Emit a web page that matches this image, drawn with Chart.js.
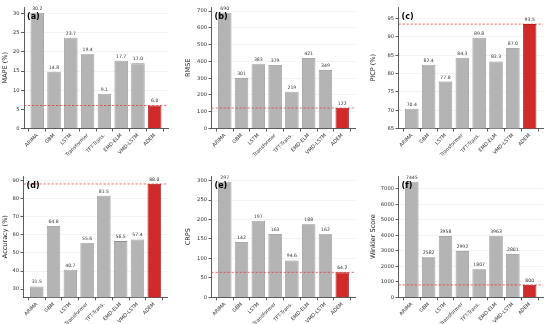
<!DOCTYPE html>
<html>
<head>
<meta charset="utf-8">
<script src="https://cdn.jsdelivr.net/npm/chart.js@4"></script>
<style>
  html, body { margin: 0; padding: 0; background: #fff; }
  #wrap { position: relative; width: 550px; height: 324px; overflow: hidden; }
  .panel { position: absolute; }
</style>
</head>
<body>
<div id="wrap"></div>
<script>
// ─── Data ────────────────────────────────────────────────────────────────────
const models = ['ARIMA', 'GBM', 'LSTM', 'Transformer', 'TFT-Trans.', 'EMD-ELM', 'VMD-LSTM', 'ADEM'];
const mape = [30.2, 14.8, 23.7, 19.4, 9.1, 17.7, 17.0, 6.0];
const rmse = [690, 301, 383, 379, 219, 421, 349, 122];
const picp = [70.4, 82.4, 77.8, 84.3, 89.8, 83.3, 87.0, 93.5];
const accuracy = [31.5, 64.8, 40.7, 55.6, 81.5, 56.5, 57.4, 88.0];
const crps = [297, 142, 197, 163, 94.6, 188, 162, 64.2];
const winkler = [7445, 2582, 3958, 2992, 1807, 3963, 2801, 800];

// y tick labels per panel
const mapeTicks = [0, 5, 10, 15, 20, 25, 30];
const rmseTicks = [0, 100, 200, 300, 400, 500, 600, 700];
const picpTicks = [65, 70, 75, 80, 85, 90, 95];
const accuracyTicks = [30, 40, 50, 60, 70, 80, 90];
const crpsTicks = [0, 50, 100, 150, 200, 250, 300];
const winklerTicks = [0, 1000, 2000, 3000, 4000, 5000, 6000, 7000];

const FONT = 'DejaVu Sans';
const GRAY = '#b4b4b4', GRAY_EDGE = '#8e8e8e';
const RED = '#d12a2a', RED_EDGE = '#a51a1a';
const INK = '#333';

const fmtVal = v => v >= 100 ? String(Math.round(v)) : v.toFixed(1);

// canvas boxes [x, y, w, h] and target plot boxes [left, top, right, bottom]
const panels = [
  { letter: '(a)', title: 'MAPE (%)',      values: mape,     ticks: mapeTicks,     yMin: 0,    canvas: [0, 0, 183, 162],     plot: [24, 7, 168, 128.5] },
  { letter: '(b)', title: 'RMSE',          values: rmse,     ticks: rmseTicks,     yMin: 0,    canvas: [183, 0, 185, 162],   plot: [211.5, 7, 355.5, 128.5] },
  { letter: '(c)', title: 'PICP (%)',      values: picp,     ticks: picpTicks,     yMin: 65,   canvas: [368, 0, 182, 162],   plot: [398.5, 7, 543, 128.5] },
  { letter: '(d)', title: 'Accuracy (%)',  values: accuracy, ticks: accuracyTicks, yMin: 25.5, canvas: [0, 162, 183, 162],   plot: [23.5, 176, 167.5, 297.3] },
  { letter: '(e)', title: 'CRPS',          values: crps,     ticks: crpsTicks,     yMin: 0,    canvas: [183, 162, 185, 162], plot: [211.5, 176, 355.5, 297.3] },
  { letter: '(f)', title: 'Winkler Score', values: winkler,  ticks: winklerTicks,  yMin: 0,    canvas: [368, 162, 182, 162], plot: [398.5, 176, 543, 297.3] },
];

// reference line, value labels and panel letter
const overlay = {
  id: 'overlay',
  afterDatasetsDraw(chart, args, opts) {
    const { ctx, chartArea } = chart;
    const vals = opts.values;
    const yRef = chart.scales.y.getPixelForValue(vals[vals.length - 1]);
    ctx.save();
    ctx.strokeStyle = 'rgba(228, 45, 45, 0.85)';
    ctx.lineWidth = 0.8;
    ctx.setLineDash([2.4, 1.6]);
    ctx.beginPath();
    ctx.moveTo(chartArea.left, yRef);
    ctx.lineTo(chartArea.right, yRef);
    ctx.stroke();
    ctx.setLineDash([]);

    ctx.fillStyle = INK;
    ctx.font = `4.6px "${FONT}"`;
    ctx.textAlign = 'center';
    ctx.textBaseline = 'bottom';
    chart.getDatasetMeta(0).data.forEach((bar, i) => {
      ctx.fillText(fmtVal(vals[i]), bar.x, bar.y - 2);
    });

    ctx.fillStyle = '#000';
    ctx.font = `bold 8px "${FONT}"`;
    ctx.textAlign = 'left';
    ctx.textBaseline = 'middle';
    ctx.fillText(opts.letter, chartArea.left + 3, chartArea.top + 9.5);
    ctx.restore();
  },
};

const wrap = document.getElementById('wrap');

for (const p of panels) {
  const [cx, cy, cw, ch] = p.canvas;
  const [pl, pt, pr, pb] = p.plot;
  const canvas = document.createElement('canvas');
  canvas.className = 'panel';
  canvas.width = cw;
  canvas.height = ch;
  canvas.style.left = cx + 'px';
  canvas.style.top = cy + 'px';
  canvas.style.width = cw + 'px';
  canvas.style.height = ch + 'px';
  wrap.appendChild(canvas);

  const yW = pl - cx;
  const xH = cy + ch - pb;
  const isBest = models.map(m => m === 'ADEM');

  new Chart(canvas, {
    type: 'bar',
    data: {
      datasets: [{
        data: p.values.map((v, i) => ({ x: i, y: v })),
        backgroundColor: isBest.map(b => b ? RED : GRAY),
        borderColor: isBest.map(b => b ? RED_EDGE : GRAY_EDGE),
        borderWidth: 0.8,
        categoryPercentage: 1,
        barPercentage: 0.8,
      }],
    },
    options: {
      responsive: false,
      animation: false,
      devicePixelRatio: 1,
      layout: { padding: { left: 0, top: pt - cy, right: cx + cw - pr, bottom: 0 } },
      plugins: {
        legend: { display: false },
        tooltip: { enabled: false },
        overlay: { values: p.values, letter: p.letter },
      },
      scales: {
        x: {
          type: 'linear',
          min: -0.79,
          max: 7.79,
          bounds: 'data',
          offset: false,
          grid: { drawOnChartArea: false, drawTicks: true, tickLength: 3, tickColor: INK, tickWidth: 0.8 },
          border: { color: INK, width: 0.8 },
          ticks: {
            autoSkip: false,
            minRotation: 45,
            maxRotation: 45,
            padding: 1,
            color: INK,
            font: { family: FONT, size: 5 },
            callback: v => models[v] ?? '',
          },
          afterBuildTicks: s => { s.ticks = models.map((_, i) => ({ value: i })); },
          afterFit: s => { s.height = xH; s.paddingLeft = 0; s.paddingRight = 0; },
        },
        y: {
          min: p.yMin,
          max: Math.max(...p.values) * 1.05,
          bounds: 'data',
          grid: { color: '#ebebeb', lineWidth: 0.6, tickLength: 3, tickColor: INK, tickWidth: 0.8 },
          border: { color: INK, width: 0.8 },
          ticks: {
            autoSkip: false,
            padding: 1.5,
            color: INK,
            font: { family: FONT, size: 5.2 },
            callback: v => String(v),
          },
          afterBuildTicks: s => { s.ticks = p.ticks.map(v => ({ value: v })); },
          title: {
            display: true,
            text: p.title,
            color: '#222',
            font: { family: FONT, size: 6.5 },
            padding: { top: 1, bottom: 0 },
          },
          afterFit: s => { s.width = yW; s.paddingTop = 0; s.paddingBottom = 0; },
        },
      },
    },
    plugins: [overlay],
  });
}
</script>
</body>
</html>
